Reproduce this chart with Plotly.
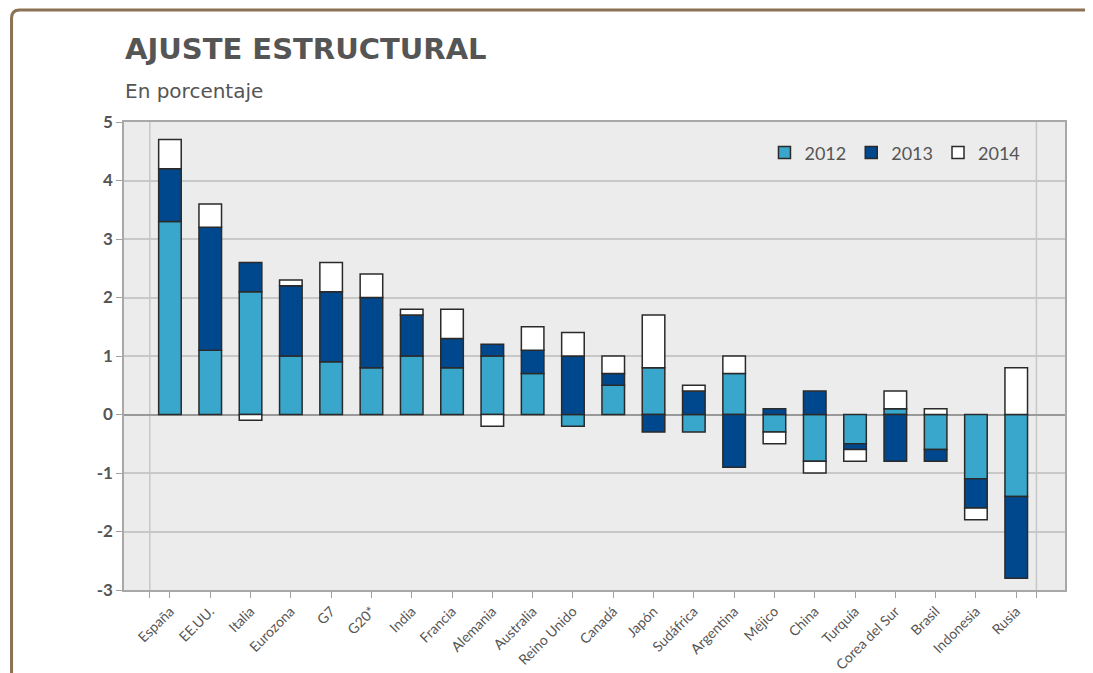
import plotly.graph_objects as go

paises = ["España", "EE.UU.", "Italia", "Eurozona", "G7", "G20*", "India", "Francia",
          "Alemania", "Australia", "Reino Unido", "Canadá", "Japón", "Sudáfrica",
          "Argentina", "Méjico", "China", "Turquía", "Corea del Sur", "Brasil",
          "Indonesia", "Rusia"]
v2012 = [3.3, 1.1, 2.1, 1.0, 0.9, 0.8, 1.0, 0.8, 1.0, 0.7, -0.2, 0.5, 0.8, -0.3,
         0.7, -0.3, -0.8, -0.5, 0.1, -0.6, -1.1, -1.4]
v2013 = [0.9, 2.1, 0.5, 1.2, 1.2, 1.2, 0.7, 0.5, 0.2, 0.4, 1.0, 0.2, -0.3, 0.4,
         -0.9, 0.1, 0.4, -0.1, -0.8, -0.2, -0.5, -1.4]
v2014 = [0.5, 0.4, -0.1, 0.1, 0.5, 0.4, 0.1, 0.5, -0.2, 0.4, 0.4, 0.3, 0.9, 0.1,
         0.3, -0.2, -0.2, -0.2, 0.3, 0.1, -0.2, 0.8]
y_ticks = [5, 4, 3, 2, 1, 0, -1, -2, -3]

x = list(range(len(paises)))
n = len(paises)

fig = go.Figure()
series = [("2012", v2012, "#39a7cc"), ("2013", v2013, "#00488e"), ("2014", v2014, "#ffffff")]
for nombre, vals, color in series:
    fig.add_trace(go.Bar(
        x=x, y=vals, name=nombre,
        marker=dict(color=color, line=dict(color="#2a2a2a", width=1.5)),
    ))

# lineas verticales en los extremos
for xv in (-0.5, n - 0.5):
    fig.add_shape(type="line", xref="x", yref="paper", x0=xv, x1=xv, y0=0, y1=1,
                  line=dict(color="#c8c8c8", width=1.5), layer="below")

# marco marron
fig.add_shape(type="path", xref="paper", yref="paper",
              path="M -0.1195,-0.3 L -0.1195,1.222 Q -0.1195,1.2395 -0.111,1.2395 L 1.1,1.2395",
              line=dict(color="#8b7254", width=3))

fig.add_annotation(text="<b>AJUSTE ESTRUCTURAL</b>", xref="paper", yref="paper",
                   x=-0.001, y=1.156, xanchor="left", yanchor="middle", showarrow=False,
                   font=dict(size=29, color="#555555", family="DejaVu Sans"))
fig.add_annotation(text="En porcentaje", xref="paper", yref="paper",
                   x=-0.001, y=1.0673, xanchor="left", yanchor="middle", showarrow=False,
                   font=dict(size=20, color="#555555", family="DejaVu Sans"))

fig.update_layout(
    width=1085, height=665,
    margin=dict(l=116, r=28, t=114, b=83),
    paper_bgcolor="white", plot_bgcolor="#ececec",
    barmode="relative", bargap=0.44,
    font=dict(family="Lato", color="#555555"),
    showlegend=True,
    legend=dict(orientation="h", x=0.958, y=0.934, xanchor="right", yanchor="middle",
                bgcolor="rgba(0,0,0,0)", font=dict(size=18, color="#555555"),
                itemwidth=30, traceorder="normal"),
    xaxis=dict(range=[-1.14, n + 0.21], tickmode="array", automargin=False,
               tickvals=[-0.5] + x + [n - 0.5], ticktext=[""] + paises + [""],
               tickangle=-45, tickfont=dict(size=14, color="#555555"),
               ticks="outside", ticklen=6, tickcolor="#a0a0a0",
               showgrid=False, zeroline=False,
               showline=True, linecolor="#a8a8a8", linewidth=1.5, mirror=True),
    yaxis=dict(range=[-3, 5], tickmode="array", tickvals=y_ticks, automargin=False,
               ticktext=[str(v) for v in y_ticks],
               tickfont=dict(size=17, color="#555555", family="Lato", weight="bold"),
               ticks="outside", ticklen=6, tickcolor="#a0a0a0",
               showgrid=True, gridcolor="#c8c8c8", gridwidth=1.5,
               zeroline=True, zerolinecolor="#999999", zerolinewidth=2,
               showline=True, linecolor="#a8a8a8", linewidth=1.5, mirror=True),
)

fig.write_html("out.html")
